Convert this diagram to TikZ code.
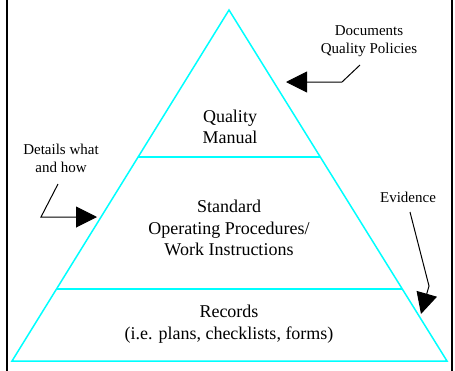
\documentclass[tikz,border=0pt]{standalone}
\usepackage{fontspec}
\setmainfont{Liberation Serif}
\usetikzlibrary{arrows.meta,positioning}
\definecolor{aqua}{RGB}{0,255,255}

\begin{document}
\begin{tikzpicture}[
x=1pt, y=-1pt,
big/.style={align=center, font=\fontsize{18}{21.5}\selectfont},
small/.style={align=center, font=\fontsize{15}{18}\selectfont},
level/.style={aqua, line width=1.5pt},
pointer/.style={line width=1pt, -{Triangle[length=21pt,width=21pt]}}
]
    % Frame
    \clip (0,0) rectangle (455,370);
    \draw[line width=1.5pt] (7,-5) rectangle (452,375);

    \draw
  	(229,10) coordinate (top)
  	(12,361) coordinate (BL)
  	(447,361) coordinate (BR)
  	(138,157) coordinate (A)
  	(320,157) coordinate (A2)
  	(57,289) coordinate (B)
  	(402,289) coordinate (B2);

    % Draw pyramid
    \draw[level] (top) -- (BL) -- (BR) -- cycle;
    \draw[level] (A) -- (A2);
    \draw[level] (B) -- (B2);

    \node[big] (manual) at (230,127) {Quality\\Manual};
    \node[big] (sop) at (229,228) {Standard\\Operating Procedures/\\Work Instructions};
    \node[big] (records) at (229,324) {Records\\(i.e. plans, checklists, forms)};

    \node[small] (docs) at (369,41) {Documents\\Quality Policies};
    \node[small] (details) at (61,158) {Details what\\and how};
    \node[small] (evidence) at (408,197) {Evidence};

    \draw
  	(360,65) coordinate (docsfrom)
  	(342,82) coordinate (docsbend)
  	(286,82) coordinate (docsto)
  	(58,184) coordinate (detailsfrom)
  	(41,217) coordinate (detailsbend)
  	(97,217) coordinate (detailsto)
  	(410,212) coordinate (evidencefrom)
  	(429,286) coordinate (evidencebend)
  	(421,314) coordinate (evidenceto);

    % Draw pointers
    \draw[pointer] (docsfrom) -- (docsbend) -- (docsto);
    \draw[pointer] (detailsfrom) -- (detailsbend) -- (detailsto);
    \draw[pointer] (evidencefrom) -- (evidencebend) -- (evidenceto);

\end{tikzpicture}
\end{document}
